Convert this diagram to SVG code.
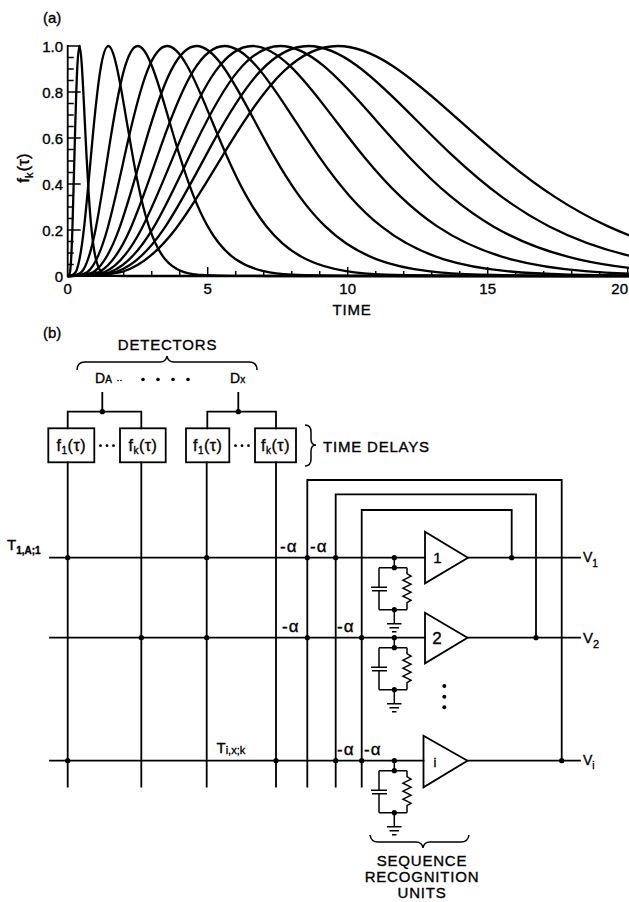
<svg xmlns="http://www.w3.org/2000/svg" xmlns:xlink="http://www.w3.org/1999/xlink" width="629" height="902" viewBox="0 0 629 902">
<style>
.ln{stroke:#000;stroke-width:1.8;fill:none;stroke-linecap:square}
.thin{stroke:#000;stroke-width:1.5;fill:none}
.crv{stroke:#000;stroke-width:2.3;fill:none;vector-effect:non-scaling-stroke;stroke-linejoin:round}
.box{stroke:#000;stroke-width:1.8;fill:#fff}
.dot{fill:#000}
text{font-family:"Liberation Sans",Arial,sans-serif;fill:#000;stroke:#000;stroke-width:0.35}
.lab{font-size:15px;letter-spacing:0.8px}
.num{font-size:15px}
.al{font-size:17px;letter-spacing:1px}
</style>
<defs>
<path id="g" class="crv" d="M0,0 C0.0667,0 0.1333,0 0.2,0.01747 C0.2667,0.04076 0.3333,0.10285 0.4,0.2057 C0.4667,0.30855 0.5333,0.44691 0.6,0.5746 C0.6667,0.70229 0.7333,0.81647 0.8,0.8907 C0.8667,0.96493 0.9333,1 1,1 C1.0667,1 1.1333,0.96625 1.2,0.9154 C1.2667,0.86455 1.3333,0.79723 1.4,0.7279 C1.4667,0.65857 1.5333,0.58736 1.6,0.5221 C1.6667,0.45684 1.7333,0.39737 1.8,0.3461 C1.8667,0.29483 1.9333,0.25153 2,0.2156 C2.1333,0.14373 2.2667,0.10083 2.4,0.0726 C2.5333,0.04437 2.6667,0.03034 2.8,0.02124 C2.9333,0.01214 3.0667,0.00817 3.2,0.005605 C3.4667,0.002 3.7333,0.0006 4,0.000313 L5,0 L60,0"/>
<clipPath id="plotclip"><rect x="60" y="30" width="569" height="250"/></clipPath>
</defs>

<g id="plot-a">
  <text x="43" y="23" class="num">(a)</text>
  <g id="curves" clip-path="url(#plotclip)">
    <use xlink:href="#g" transform="translate(67.7,276) scale(11.76,-230)"/>
    <use xlink:href="#g" transform="translate(67.7,276) scale(40.6,-230)"/>
    <use xlink:href="#g" transform="translate(67.7,276) scale(70,-230)"/>
    <use xlink:href="#g" transform="translate(67.7,276) scale(99.4,-230)"/>
    <use xlink:href="#g" transform="translate(67.7,276) scale(128.8,-230)"/>
    <use xlink:href="#g" transform="translate(67.7,276) scale(156.8,-230)"/>
    <use xlink:href="#g" transform="translate(67.7,276) scale(184.8,-230)"/>
    <use xlink:href="#g" transform="translate(67.7,276) scale(212.8,-230)"/>
    <use xlink:href="#g" transform="translate(67.7,276) scale(240.8,-230)"/>
    <use xlink:href="#g" transform="translate(67.7,276) scale(270.2,-230)"/>
  </g>
  <g id="axes">
    <path class="ln" d="M67.7,46 V276 H629"/>
    <path class="thin" d="M67.7,264.5h6M67.7,253h6M67.7,241.5h6M67.7,230h13M67.7,218.5h6M67.7,207h6M67.7,195.5h6M67.7,184h13M67.7,172.5h6M67.7,161h6M67.7,149.5h6M67.7,138h13M67.7,126.5h6M67.7,115h6M67.7,103.5h6M67.7,92h13M67.7,80.5h6M67.7,69h6M67.7,57.5h6M67.7,46h13"/>
    <path class="thin" d="M95.7,276v-5M123.7,276v-5M151.7,276v-5M179.7,276v-5M207.7,276v-9M235.7,276v-5M263.7,276v-5M291.7,276v-5M319.7,276v-5M347.7,276v-9M375.7,276v-5M403.7,276v-5M431.7,276v-5M459.7,276v-5M487.7,276v-9M515.7,276v-5M543.7,276v-5M571.7,276v-5M599.7,276v-5M627.7,276v-9"/>
  </g>
  <g id="y-labels" class="num" text-anchor="end">
    <text x="63" y="51.5">1.0</text>
    <text x="63" y="97.5">0.8</text>
    <text x="63" y="143.5">0.6</text>
    <text x="63" y="189.5">0.4</text>
    <text x="63" y="235.5">0.2</text>
    <text x="63" y="281.5">0</text>
  </g>
  <g id="x-labels" class="num" text-anchor="middle">
    <text x="67.7" y="293.5">0</text>
    <text x="207.7" y="293.5">5</text>
    <text x="347.7" y="293.5">10</text>
    <text x="487.7" y="293.5">15</text>
    <text x="628" y="293.5" text-anchor="end">20</text>
    <text x="352" y="315" class="lab">TIME</text>
  </g>
  <text transform="translate(29,168) rotate(-90)" text-anchor="middle" font-size="17">f<tspan font-size="11" dy="4">k</tspan><tspan dy="-4" dx="1">(τ)</tspan></text>
</g>

<g id="plot-b">
  <text x="43" y="338" class="num">(b)</text>

  <g id="detectors-label">
    <text x="167.5" y="350" class="lab" text-anchor="middle">DETECTORS</text>
    <path class="thin" d="M77,370 Q77,362 85,362 L160,362 Q166,362 167,356 Q168,362 174,362 L249,362 Q257,362 257,370"/>
  </g>
  <g id="detector-A">
    <text x="95" y="383" font-size="14">D<tspan font-size="10">A</tspan></text>
    <circle cx="118" cy="380.5" r="0.8" class="dot"/><circle cx="121" cy="380.5" r="0.8" class="dot"/>
  </g>
  <g id="detector-dots">
    <circle cx="143" cy="379.5" r="1.8" class="dot"/>
    <circle cx="158" cy="379.5" r="1.8" class="dot"/>
    <circle cx="173" cy="379.5" r="1.8" class="dot"/>
    <circle cx="188" cy="379.5" r="1.8" class="dot"/>
  </g>
  <g id="detector-X">
    <text x="230" y="383" font-size="14">D<tspan font-size="10">x</tspan></text>
  </g>

  <g id="delay-A1"><rect class="box" x="48.3" y="428.3" width="46" height="34"/><text x="71.3" y="450.5" font-size="16" text-anchor="middle" letter-spacing="0.5">f<tspan font-size="10" dy="3">1</tspan><tspan dy="-3">(τ)</tspan></text></g>
  <g id="delay-Ak"><rect class="box" x="120" y="428.3" width="45.7" height="34"/><text x="142.9" y="450.5" font-size="16" text-anchor="middle" letter-spacing="0.5">f<tspan font-size="10" dy="3">k</tspan><tspan dy="-3">(τ)</tspan></text></g>
  <g id="delay-X1"><rect class="box" x="186" y="428.3" width="43.3" height="34"/><text x="207.7" y="450.5" font-size="16" text-anchor="middle" letter-spacing="0.5">f<tspan font-size="10" dy="3">1</tspan><tspan dy="-3">(τ)</tspan></text></g>
  <g id="delay-Xk"><rect class="box" x="255" y="428.3" width="41" height="34"/><text x="275.5" y="450.5" font-size="16" text-anchor="middle" letter-spacing="0.5">f<tspan font-size="10" dy="3">k</tspan><tspan dy="-3">(τ)</tspan></text></g>
  <g id="delay-dots">
    <circle cx="100.5" cy="445.7" r="1.4" class="dot"/><circle cx="107" cy="445.7" r="1.4" class="dot"/><circle cx="113.5" cy="445.7" r="1.4" class="dot"/>
    <circle cx="235.5" cy="445.7" r="1.4" class="dot"/><circle cx="242" cy="445.7" r="1.4" class="dot"/><circle cx="248.5" cy="445.7" r="1.4" class="dot"/>
  </g>
  <g id="time-delays-label">
    <path class="thin" d="M305,425 Q311,425 311,432 L311,439 Q311,445 316,445 Q311,445 311,451 L311,459 Q311,466 305,466"/>
    <text x="323" y="451.5" class="lab">TIME DELAYS</text>
  </g>

  <g id="amp-1"><path class="box" d="M425,531.7 L468,557.7 L425,583.3 Z"/><text x="437.5" y="563" font-size="15" text-anchor="middle">1</text></g>
  <g id="amp-2"><path class="box" d="M425,612.7 L467.5,637.7 L425,663.3 Z"/><text x="437" y="644" font-size="17" text-anchor="middle">2</text></g>
  <g id="amp-i"><path class="box" d="M423.5,735.7 L467.5,760.7 L423.5,787.3 Z"/><text x="435" y="767" font-size="13" text-anchor="middle">i</text></g>
  <g id="amp-ellipsis">
    <circle cx="444.3" cy="686" r="2" class="dot"/><circle cx="444.3" cy="696.7" r="2" class="dot"/><circle cx="444.3" cy="707.3" r="2" class="dot"/>
  </g>

  <g id="rc-1" transform="translate(0,557.7)">
    <path class="thin" d="M394.3,0V10M379,10H407M379,10V29.5M371,29.5H387M372,33H387M379,33V52M407,10V16l4,2.5l-8,4l8,4l-8,4l8,4l-8,4l8,4l-4,2.5V52M379,52H407M394.3,52V66M387,66H401.5M389.5,70H399M392,74H396.5"/>
    <circle cx="394.3" cy="10" r="2.6" class="dot"/><circle cx="394.3" cy="52" r="2.6" class="dot"/>
  </g>
  <g id="rc-2" transform="translate(0,637.7)">
    <path class="thin" d="M394.3,0V10M379,10H407M379,10V29.5M371,29.5H387M372,33H387M379,33V52M407,10V16l4,2.5l-8,4l8,4l-8,4l8,4l-8,4l8,4l-4,2.5V52M379,52H407M394.3,52V66M387,66H401.5M389.5,70H399M392,74H396.5"/>
    <circle cx="394.3" cy="10" r="2.6" class="dot"/><circle cx="394.3" cy="52" r="2.6" class="dot"/>
  </g>
  <g id="rc-i" transform="translate(0,760.7)">
    <path class="thin" d="M394.3,0V10M379,10H407M379,10V29.5M371,29.5H387M372,33H387M379,33V52M407,10V16l4,2.5l-8,4l8,4l-8,4l8,4l-8,4l8,4l-4,2.5V52M379,52H407M394.3,52V66M387,66H401.5M389.5,70H399M392,74H396.5"/>
    <circle cx="394.3" cy="10" r="2.6" class="dot"/><circle cx="394.3" cy="52" r="2.6" class="dot"/>
  </g>
  <g id="sequence-label">
    <path class="thin" d="M370,835 Q371,842 378,842 L416,842 Q422,842 423,848 Q424,842 430,842 L461,842 Q468,842 469,835"/>
    <text x="422" y="866" class="lab" text-anchor="middle">SEQUENCE</text>
    <text x="422" y="882" class="lab" text-anchor="middle">RECOGNITION</text>
    <text x="422" y="898" class="lab" text-anchor="middle">UNITS</text>
  </g>

  <g id="connectors">
    <path class="ln" d="M102.3,393V411.7M67.7,428.3V411.7H141.3V428.3M238.3,393V411.7M207.3,428.3V411.7H276V428.3"/>
    <path class="ln" d="M67.7,462.3V786.7M141.3,462.3V786.7M206.7,462.3V786.7M276,462.3V786.7"/>
    <path class="ln" d="M50,557.7H425M468,557.7H580M50,637.7H425M467.5,637.7H580M50,760.7H423.5M467.5,760.7H580"/>
    <path class="ln" d="M307.3,786.7V480H561.7V760.7M335.7,786.7V494.3H536V637.7M361.7,786.7V510H511.7V557.7"/>
    <g class="dot">
      <circle cx="102.3" cy="411.7" r="2.6"/><circle cx="238.3" cy="411.7" r="2.6"/>
      <circle cx="67.7" cy="557.7" r="2.6"/><circle cx="206.7" cy="557.7" r="2.6"/><circle cx="307.3" cy="557.7" r="2.6"/><circle cx="335.7" cy="557.7" r="2.6"/><circle cx="394.3" cy="557.7" r="2.6"/><circle cx="511.7" cy="557.7" r="2.6"/>
      <circle cx="141.3" cy="637.7" r="2.6"/><circle cx="206.7" cy="637.7" r="2.6"/><circle cx="307.3" cy="637.7" r="2.6"/><circle cx="361.7" cy="637.7" r="2.6"/><circle cx="394.3" cy="637.7" r="2.6"/><circle cx="536" cy="637.7" r="2.6"/>
      <circle cx="67.7" cy="760.7" r="2.6"/><circle cx="276" cy="760.7" r="2.6"/><circle cx="335.7" cy="760.7" r="2.6"/><circle cx="361.7" cy="760.7" r="2.6"/><circle cx="394.3" cy="760.7" r="2.6"/><circle cx="561.7" cy="760.7" r="2.6"/>
    </g>
  </g>

  <g id="weights" class="al">
    <text x="280" y="551.5">-α</text><text x="310" y="551.5">-α</text>
    <text x="282" y="631.5">-α</text><text x="337" y="631.5">-α</text>
    <text x="337" y="755">-α</text><text x="364" y="755">-α</text>
  </g>
  <g id="input-labels">
    <text x="7" y="550" font-size="15">T<tspan font-size="10" font-weight="bold" dy="4">1,A;1</tspan></text>
    <text x="216.5" y="753" font-size="15">T<tspan font-size="11" dy="1">i,x;k</tspan></text>
  </g>
  <g id="outputs">
    <text x="583" y="561.7" font-size="14">V<tspan font-size="10" dy="5">1</tspan></text>
    <text x="583" y="643.3" font-size="15">V<tspan font-size="11" dy="5">2</tspan></text>
    <text x="583" y="765" font-size="14">V<tspan font-size="10" dy="4">i</tspan></text>
  </g>
</g>
</svg>
